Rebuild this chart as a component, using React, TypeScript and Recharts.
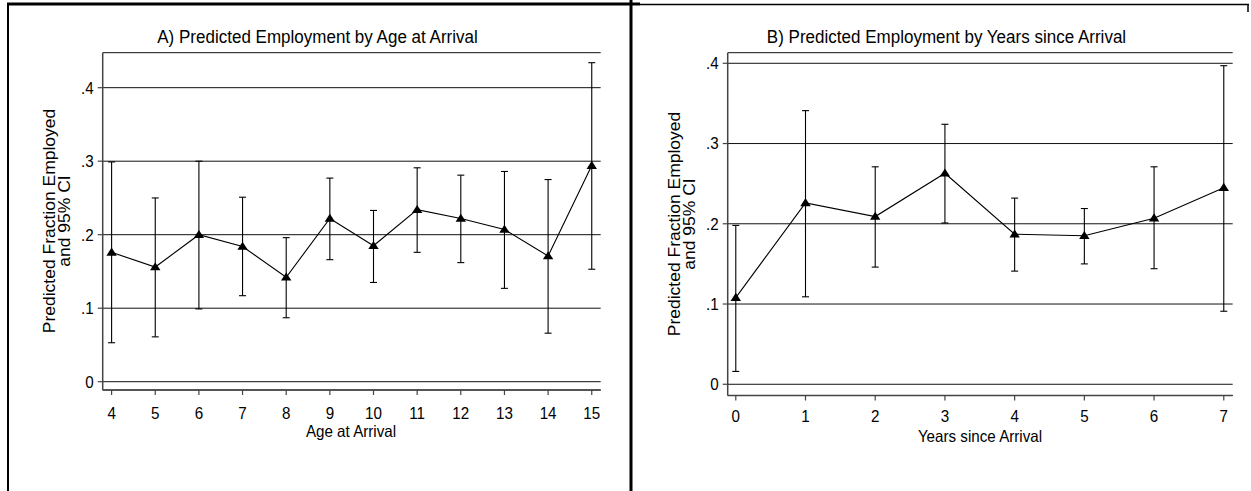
import { CartesianGrid, ErrorBar, Line, LineChart, XAxis, YAxis } from "recharts";

const ageCats = [4, 5, 6, 7, 8, 9, 10, 11, 12, 13, 14, 15];
const agePred = [0.176, 0.156, 0.2, 0.184, 0.142, 0.222, 0.185, 0.234, 0.222, 0.207, 0.171, 0.294];
const ageLow = [0.053, 0.061, 0.099, 0.117, 0.087, 0.166, 0.135, 0.176, 0.162, 0.127, 0.066, 0.153];
const ageHigh = [0.299, 0.25, 0.3, 0.251, 0.196, 0.277, 0.233, 0.291, 0.281, 0.286, 0.275, 0.434];

const yearCats = [0, 1, 2, 3, 4, 5, 6, 7];
const yearPred = [0.108, 0.226, 0.209, 0.263, 0.187, 0.185, 0.207, 0.245];
const yearLow = [0.016, 0.109, 0.146, 0.201, 0.141, 0.15, 0.144, 0.091];
const yearHigh = [0.198, 0.341, 0.271, 0.324, 0.232, 0.219, 0.271, 0.397];

const yTicks = [0, 0.1, 0.2, 0.3, 0.4];

const FONT = "'Liberation Sans', Arial, Helvetica, sans-serif";
const SQUEEZE = 0.92;

function buildRows(cats: number[], pred: number[], low: number[], high: number[]) {
  return cats.map((c, i) => ({
    x: c,
    y: pred[i],
    err: [pred[i] - low[i], high[i] - pred[i]],
  }));
}

const ageRows = buildRows(ageCats, agePred, ageLow, ageHigh);
const yearRows = buildRows(yearCats, yearPred, yearLow, yearHigh);

function fmtY(v: number) {
  if (v === 0) return "0";
  return v.toFixed(1).replace(/^0/, "");
}

function YTick({ x = 0, y = 0, payload }: any) {
  return (
    <text
      transform={`translate(${Number(x)} ${Number(y)}) scale(${SQUEEZE} 1)`}
      dy="0.36em"
      textAnchor="end"
      fill="#000"
      fontSize={16.5}
      fontFamily={FONT}
    >
      {fmtY(Number(payload?.value ?? 0))}
    </text>
  );
}

function XTick({ x = 0, y = 0, payload }: any) {
  return (
    <text
      transform={`translate(${Number(x)} ${Number(y)}) scale(${SQUEEZE} 1)`}
      dy="0.71em"
      textAnchor="middle"
      fill="#000"
      fontSize={16.5}
      fontFamily={FONT}
    >
      {payload?.value}
    </text>
  );
}

function Triangle({ cx, cy, index }: any) {
  if (cx == null || cy == null) return <g key={`t-${index}`} />;
  return (
    <path
      key={`t-${index}`}
      d={`M${cx},${cy - 4.8}L${cx + 5.2},${cy + 3.3}L${cx - 5.2},${cy + 3.3}Z`}
      fill="#000"
      stroke="none"
    />
  );
}

type PanelProps = {
  rows: { x: number; y: number; err: number[] }[];
  ticks: number[];
  width: number;
  xDomain: [number, number];
  yDomain: [number, number];
  margin: { top: number; right: number; bottom: number; left: number };
  yAxisWidth: number;
  tickGap: number;
};

function Panel({ rows, ticks, width, xDomain, yDomain, margin, yAxisWidth, tickGap }: PanelProps) {
  return (
    <LineChart width={width} height={491} data={rows} margin={margin}>
      <CartesianGrid horizontal vertical={false} stroke="#111" strokeWidth={1} />
      <XAxis
        dataKey="x"
        type="number"
        domain={xDomain}
        ticks={ticks}
        allowDataOverflow
        height={30}
        tick={<XTick />}
        tickSize={5}
        tickMargin={tickGap}
        axisLine={{ stroke: "#444", strokeWidth: 1.5 }}
        tickLine={{ stroke: "#444", strokeWidth: 1.2 }}
      />
      <YAxis
        type="number"
        domain={yDomain}
        ticks={yTicks}
        allowDataOverflow
        width={yAxisWidth}
        tick={<YTick />}
        tickSize={5}
        tickMargin={4}
        axisLine={{ stroke: "#444", strokeWidth: 1.5 }}
        tickLine={{ stroke: "#444", strokeWidth: 1.2 }}
      />
      <Line
        type="linear"
        dataKey="y"
        stroke="#000"
        strokeWidth={1.1}
        dot={Triangle}
        activeDot={false}
        isAnimationActive={false}
      >
        <ErrorBar dataKey="err" direction="y" width={3.5} stroke="#000" strokeWidth={1.1} isAnimationActive={false} />
      </Line>
    </LineChart>
  );
}

function Label({ x, y, text, size, anchor = "middle" }: { x: number; y: number; text: string; size: number; anchor?: string }) {
  return (
    <text
      transform={`translate(${x} ${y}) scale(${SQUEEZE} 1)`}
      textAnchor={anchor}
      fontSize={size}
      fontFamily={FONT}
      fill="#000"
    >
      {text}
    </text>
  );
}

// two-line rotated y title, squeezed across like the rest of the picture
function YTitle({ x, cy }: { x: number; cy: number }) {
  return (
    <g fontFamily={FONT} fontSize={17.5} fill="#000" textAnchor="middle">
      <text transform={`translate(${x} ${cy}) scale(${SQUEEZE} 1) rotate(-90)`}>Predicted Fraction Employed</text>
      <text transform={`translate(${x + 15.5} ${cy}) scale(${SQUEEZE} 1) rotate(-90)`}>and 95% CI</text>
    </g>
  );
}

export default function App() {
  return (
    <div style={{ position: "relative", width: 1251, height: 491, background: "#fff", overflow: "hidden" }}>
      <style>{"body{margin:0;}"}</style>
      <div style={{ position: "absolute", left: 0, top: 0 }}>
        <Panel
          rows={ageRows}
          ticks={ageCats}
          width={630}
          xDomain={[3.796, 15.205]}
          yDomain={[-0.0113, 0.4476]}
          margin={{ top: 52.7, right: 29.3, bottom: 71, left: 0 }}
          yAxisWidth={102.7}
          tickGap={12}
        />
      </div>
      <div style={{ position: "absolute", left: 630, top: 0 }}>
        <Panel
          rows={yearRows}
          ticks={yearCats}
          width={621}
          xDomain={[-0.116, 7.128]}
          yDomain={[-0.014, 0.4132]}
          margin={{ top: 52.7, right: 18.3, bottom: 65.5, left: 0 }}
          yAxisWidth={97.7}
          tickGap={10}
        />
      </div>
      <svg
        width={1251}
        height={491}
        style={{ position: "absolute", left: 0, top: 0, pointerEvents: "none" }}
      >
        <line x1={7} y1={4} x2={640} y2={4} stroke="#000" strokeWidth={3} />
        <line x1={640} y1={4.5} x2={1249} y2={4.5} stroke="#000" strokeWidth={1.5} />
        <line x1={8} y1={3} x2={8} y2={491} stroke="#000" strokeWidth={2} />
        <line x1={631} y1={0} x2={631} y2={491} stroke="#000" strokeWidth={3} />
        <line x1={1248} y1={4} x2={1248} y2={12} stroke="#000" strokeWidth={1.5} />

        <Label x={317.5} y={42.7} size={18.5} text="A) Predicted Employment by Age at Arrival" />
        <Label x={946.5} y={42.7} size={18.5} text="B) Predicted Employment by Years since Arrival" />
        <Label x={351} y={437} size={16.5} text="Age at Arrival" />
        <Label x={980} y={442} size={16.5} text="Years since Arrival" />

        <YTitle x={54.5} cy={221} />
        <YTitle x={679.5} cy={224} />
      </svg>
    </div>
  );
}
